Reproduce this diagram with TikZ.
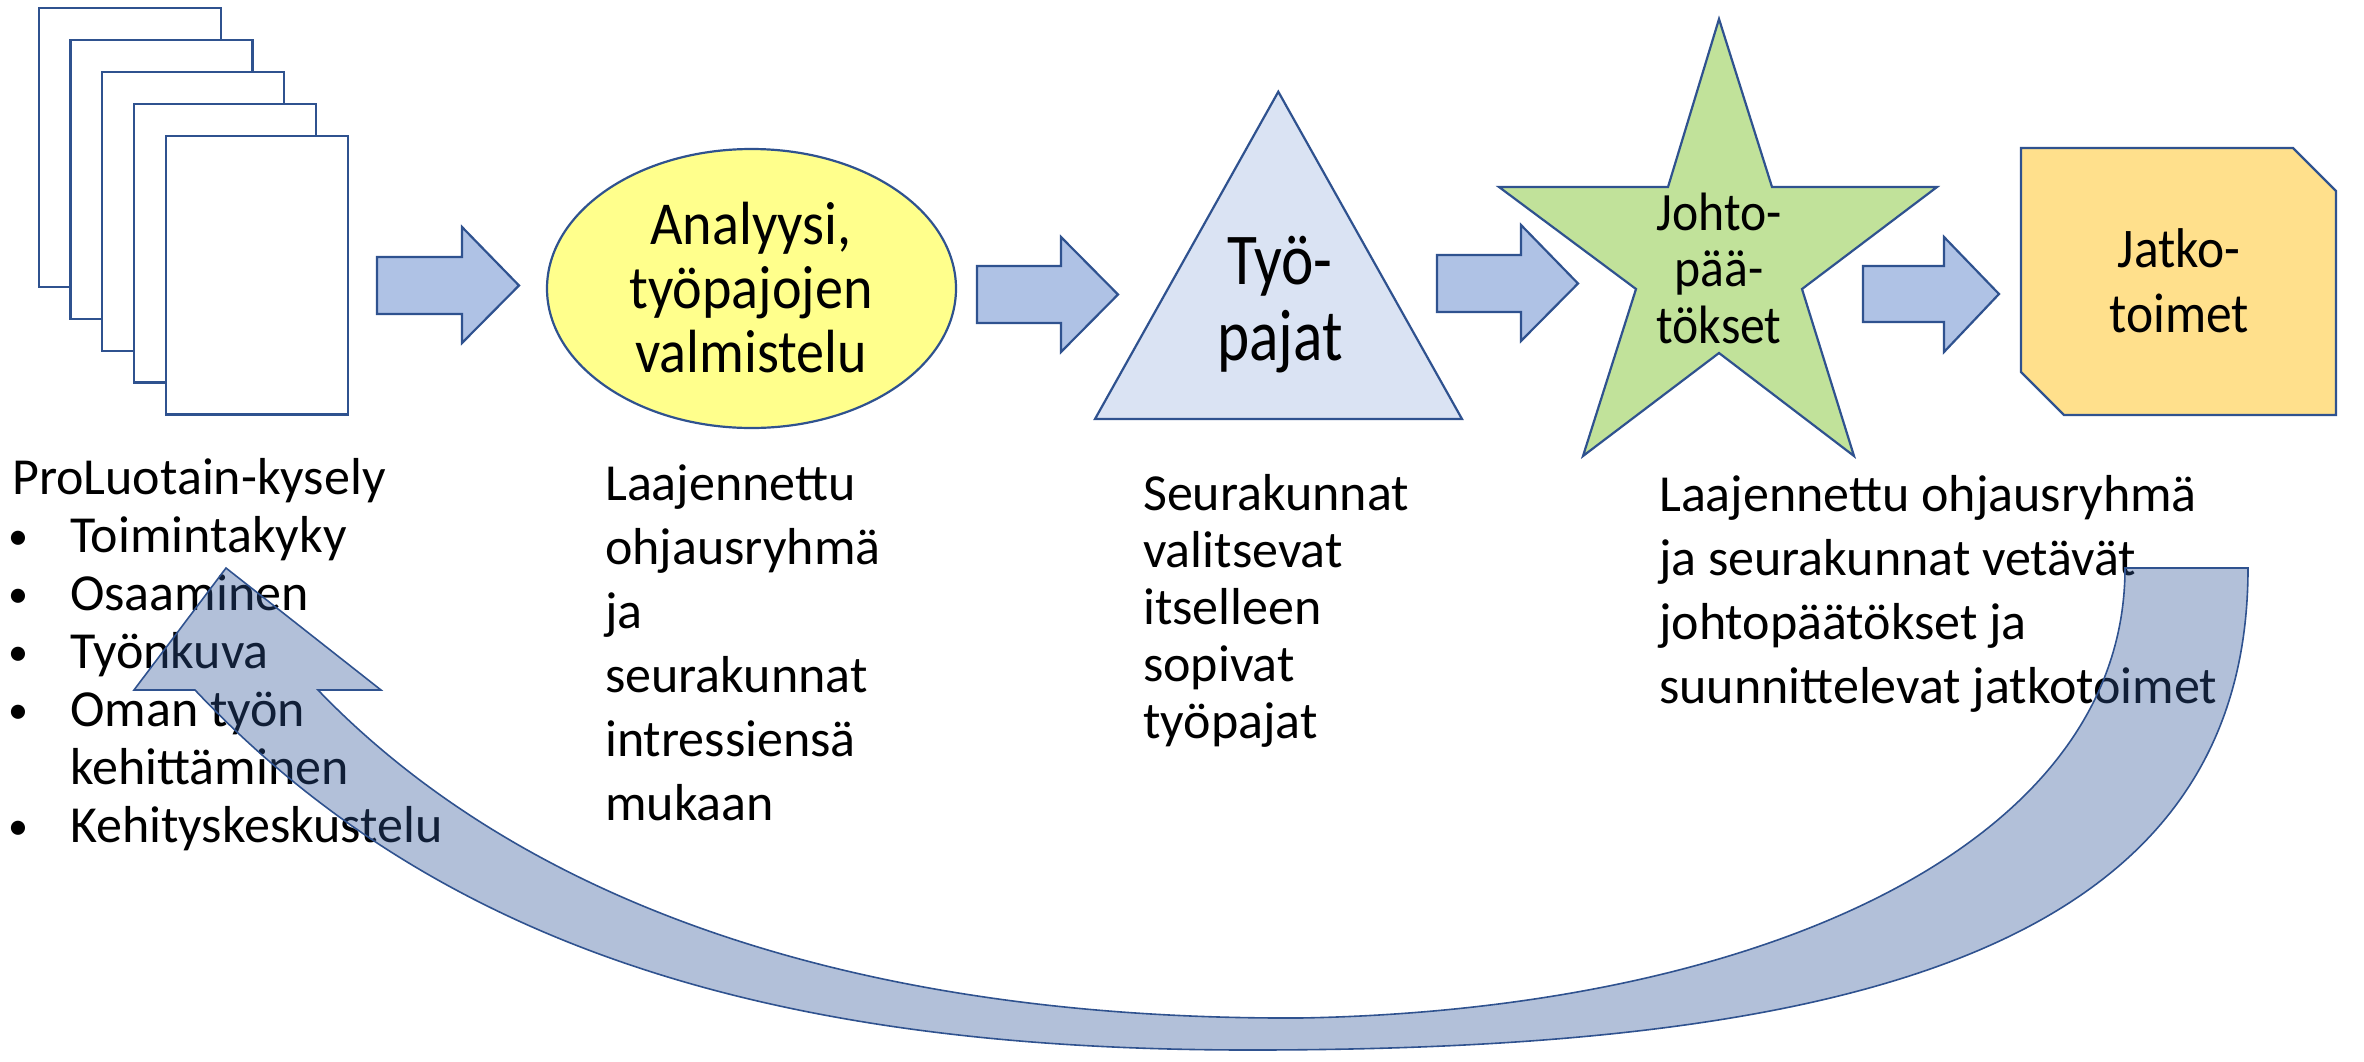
\documentclass[tikz,border=0pt]{standalone}
\usepackage{fontspec}
\setmainfont{Carlito}
\newfontfamily\ellfont[FakeStretch=0.92]{Carlito}
\newfontfamily\trifont[FakeStretch=0.84]{Carlito}
\newfontfamily\starfont[FakeStretch=0.92]{Carlito}
\definecolor{edgeblue}{HTML}{2F528F}
\definecolor{arrowfill}{HTML}{AFC2E5}
\definecolor{ellfill}{HTML}{FFFF8C}
\definecolor{trifill}{HTML}{DAE3F3}
\definecolor{starfill}{HTML}{C1E29A}
\definecolor{docfill}{HTML}{FFE08C}
\definecolor{curvefill}{HTML}{2F5597}
\newcommand{\bul}{\hspace*{-4pt}\makebox[62pt][l]{\fontsize{40}{40}\selectfont\raisebox{3pt}{•}}}
\newcommand{\barrow}[7]{%
  \draw[blockarrow] (#1,#4) -- (#2,#4) -- (#2,#6) -- (#3,{(#4+#5)/2}) -- (#2,#7) -- (#2,#5) -- (#1,#5) -- cycle;}
\begin{document}
\begin{tikzpicture}[x=1pt,y=-1pt,
  shapeline/.style={draw=edgeblue, line width=2.2pt, line join=miter},
  blockarrow/.style={shapeline, fill=arrowfill},
  pagebox/.style={shapeline, fill=white},
  body/.style={font=\fontsize{52}{64}\selectfont, align=left, anchor=base west, inner sep=0pt},
  shapetext/.style={align=center, anchor=base, inner sep=0pt},
  curvearrow/.style={draw=edgeblue, line width=1.6pt, fill=curvefill, fill opacity=0.37, line join=miter}]
\useasboundingbox (0,0) rectangle (2364,1061);
% stacked pages
\foreach \i in {0,...,4}{
  \draw[pagebox] ({38.6+31.85*\i},{8.3+31.9*\i}) rectangle ++(182,278.5);
}
% block arrows
\barrow{377}{462}{519}{257}{314}{227}{343}
\barrow{977}{1061}{1118}{266}{323}{237}{352}
\barrow{1437}{1521}{1578}{255}{312}{225}{341}
\barrow{1863}{1944}{1999}{266}{322}{237}{352}
% ellipse
\draw[shapeline, fill=ellfill] (751.5,288.5) ellipse [x radius=204.5, y radius=139.5];
\node[shapetext, font=\ellfont\fontsize{61}{64}\selectfont] (analyysi) at (751,372) {Analyysi,\\työpajojen\\valmistelu};
% triangle
\draw[shapeline, fill=trifill] (1278.3,91.7) -- (1462,419) -- (1095,419) -- cycle;
\node[shapetext, font=\trifont\fontsize{73}{76}\selectfont] (tyopajat) at (1280,360) {Työ-\\pajat};
% star
\draw[shapeline, fill=starfill] (1719,19) -- (1772,187) -- (1937,187) -- (1802,289) -- (1854,456)
  -- (1719,353) -- (1583,456) -- (1636,289) -- (1499,187) -- (1668,187) -- cycle;
\node[shapetext, font=\starfont\fontsize{54}{56.5}\selectfont] (johto) at (1719,343) {Johto-\\pää-\\tökset};
% snipped document
\draw[shapeline, fill=docfill] (2021,148) -- (2293,148) -- (2336,191) -- (2336,415) -- (2064,415) -- (2021,372) -- cycle;
\node[shapetext, font=\starfont\fontsize{56}{65}\selectfont] (jatko) at (2179,332) {Jatko-\\toimet};
% body texts
\node[body, font=\fontsize{52}{58}\selectfont] (survey) at (12,842) {ProLuotain-kysely\\\bul Toimintakyky\\\bul Osaaminen\\\bul Työnkuva\\\bul Oman työn\\\hspace*{58pt}kehittäminen\\\bul Kehityskeskustelu};
\node[body] (ohjaus) at (605,820) {Laajennettu\\ohjausryhmä\\ja\\seurakunnat\\intressiensä\\mukaan};
\node[body, font=\fontsize{52}{57}\selectfont] (seurak) at (1143,738) {Seurakunnat\\valitsevat\\itselleen\\sopivat\\työpajat};
\node[body] (johtop) at (1659,703) {Laajennettu ohjausryhmä\\ja seurakunnat vetävät\\johtopäätökset ja\\suunnittelevat jatkotoimet};
% big curved return arrow
\draw[curvearrow] (2125,568) -- (2248,568) .. controls (2248,950) and (1850,1050) .. (1250,1050)
  .. controls (800,1050) and (450,960) .. (195,690) -- (134,690) -- (226,568) -- (381,690) -- (318,690)
  .. controls (520,900) and (850,1020) .. (1300,1018) .. controls (1750,1010) and (2125,850) .. (2125,568) -- cycle;
\end{tikzpicture}
\end{document}
